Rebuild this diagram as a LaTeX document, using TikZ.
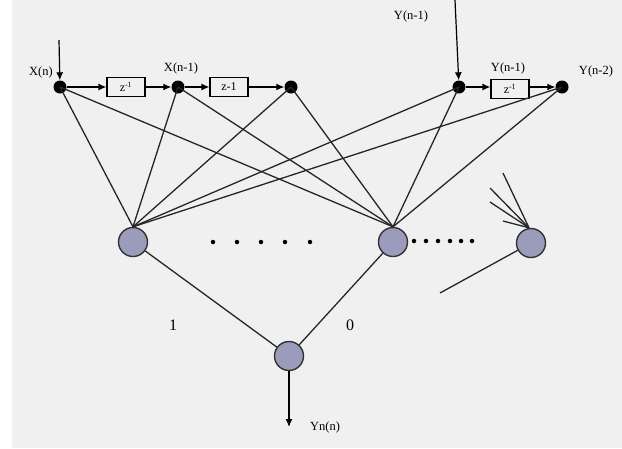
\documentclass[tikz,border=0pt]{standalone}
\usepackage{fontspec}
\setmainfont{Liberation Serif}
\usetikzlibrary{arrows.meta}
\definecolor{bg}{RGB}{240,240,240}
\definecolor{neur}{RGB}{155,155,188}
\begin{document}
\begin{tikzpicture}[x=1pt,y=-1pt,
  inp/.style={circle,fill=black,inner sep=0pt,minimum size=13pt},
  neuron/.style={circle,draw=black!80,line width=1.4pt,fill=neur,inner sep=0pt,minimum size=29pt},
  delay/.style={draw,line width=1.2pt,minimum width=38pt,minimum height=19pt,inner sep=0pt,font=\fontsize{12}{13}\selectfont},
  lbl/.style={font=\fontsize{12.5}{13}\selectfont,inner sep=1pt},
  conn/.style={line width=1.3pt,black!85},
  arr/.style={line width=1.2pt,-{Latex[length=8pt,width=7pt]}},
  dotsep/.style={circle,fill=black,inner sep=0pt,minimum size=4.5pt}]
\fill[bg] (0,0) rectangle (622,448);
\fill[white] (0,0) rectangle (12,448);
\useasboundingbox (0,0) rectangle (622,448);
% input nodes
\node[inp] (x0) at (60,87) {};
\node[inp] (x1) at (178,87) {};
\node[inp] (x2) at (291,87) {};
\node[inp] (y0) at (459,87) {};
\node[inp] (y1) at (562,87) {};
% delays
\node[delay] (d1) at (126,87) {z\textsuperscript{-1}};
\node[delay] (d2) at (229,87) {z-1};
\node[delay] (d3) at (510,89) {z\textsuperscript{-1}};
% neurons
\node[neuron] (h1) at (133,242) {};
\node[neuron] (h2) at (393,242) {};
\node[neuron] (h3) at (531,243) {};
\node[neuron] (o) at (289,356) {};
% labels
\node[lbl] (lx) at (41,72) {X(n)};
\node[lbl] (lx1) at (181,68) {X(n-1)};
\node[lbl] (ly) at (411,16) {Y(n-1)};
\node[lbl] (ly1) at (508,68) {Y(n-1)};
\node[lbl] (ly2) at (596,71) {Y(n-2)};
\node[lbl,font=\fontsize{16}{17}\selectfont] (l1) at (173,325) {1};
\node[lbl,font=\fontsize{16}{17}\selectfont] (l0) at (350,325) {0};
\node[lbl] (lyn) at (325,427) {Yn(n)};
% input arrows
\coordinate (tx) at (59,40);
\coordinate (ty) at (455,0);
\coordinate (tout) at (289,427);
\draw[arr] (tx) -- (x0);
\draw[arr] (ty) -- (y0);
\draw[arr] (o) -- (tout);
% delay chain
\draw[arr] (x0) -- (d1);
\draw[arr] (d1) -- (x1);
\draw[arr] (x1) -- (d2);
\draw[arr] (d2) -- (x2);
\draw[arr] (y0) -- (d3.west|-y0);
\draw[arr] (d3.east|-y1) -- (y1);
% connections
\foreach \i in {x0,x1,x2,y0,y1}{
  \draw[conn] (\i.center) -- (h1.north);
  \draw[conn] (\i.center) -- (h2.north);
}
\draw[conn] (h1) -- (o);
\draw[conn] (h2) -- (o);
% stubs at h3
\coordinate (s1) at (503,173);
\coordinate (s2) at (490,188);
\coordinate (s3) at (490,202);
\coordinate (s4) at (503,221);
\coordinate (s5) at (440,293);
\foreach \s in {s1,s2,s3,s4}{\draw[conn] (h3.north) ++(-2,0) -- (\s);}
\draw[conn] (h3) -- (s5);
% dots
\foreach \xx/\n in {213/a,237/b,261/c,285/d,310/e}{\node[dotsep] (p\n) at (\xx,242) {};}
\foreach \xx/\n in {414/a,426/b,438/c,450/d,461/e,472/f}{\node[dotsep] (q\n) at (\xx,241) {};}
\end{tikzpicture}
\end{document}
